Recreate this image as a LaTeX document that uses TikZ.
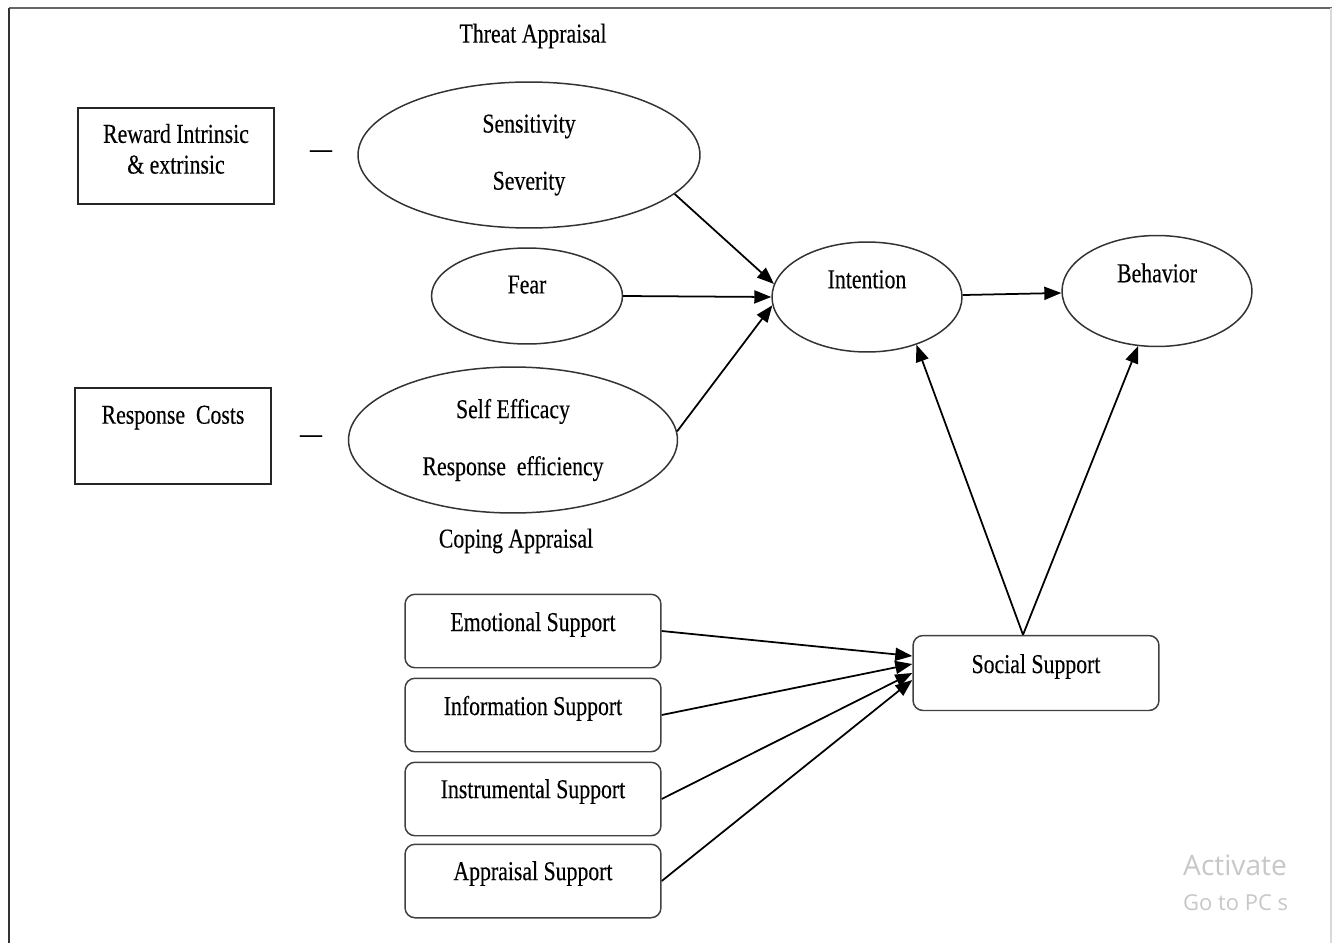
\documentclass[tikz,border=0pt]{standalone}
\usepackage{fontspec}
\setmainfont{Liberation Serif}[FakeStretch=0.8, FakeBold=0.3]
\newfontfamily\wmfont{Open Sans}
\usetikzlibrary{shapes.geometric,arrows.meta,calc}

\begin{document}
\begin{tikzpicture}[x=0.02cm,y=-0.02cm,
    font=\fontsize{15.5}{17.5}\selectfont,
    oval/.style={ellipse, draw=black!80, line width=0.85pt, inner sep=0pt},
    sqbox/.style={rectangle, draw=black!85, line width=0.85pt, minimum width=3.93cm, minimum height=1.92cm},
    rbox/.style={rectangle, rounded corners=0.2cm, draw=black!75, line width=0.85pt, minimum width=5.12cm, minimum height=1.47cm, text height=10pt, text depth=10pt},
    arr/.style={-{Triangle[length=0.34cm,width=0.26cm]}, line width=1pt},
    wm/.style={text=black!22, anchor=west}]

                    \useasboundingbox (0,0) rectangle (1332,943);
                    % frame
                    \draw[black!60, line width=1.5pt] (9,8) -- (1332,8);
                    \draw[black!80, line width=1pt] (9,8) -- (9,943);
                    \draw[black!15, line width=1pt] (1331,8) -- (1331,943);

                    % threat / coping appraisal
                    \node (threat) at (533,36) {Threat Appraisal};
                    \node[sqbox, align=center, text height=26pt, text depth=6pt] (reward) at (176,156) {Reward Intrinsic\\\& extrinsic};
                    \node (dasha) at (321,154) {—};
                    \node[oval, minimum width=6.84cm, minimum height=2.92cm, align=center] (threatov) at (529,155) {Sensitivity\\[15pt]Severity};
                    \node[oval, minimum width=3.82cm, minimum height=1.92cm, text height=10pt, text depth=13pt] (fear) at (527,296) {Fear};
                    \node[sqbox, text height=10pt, text depth=24pt] (cost) at (173,436) {Response~~Costs};
                    \node (dashb) at (311,439) {—};
                    \node[oval, minimum width=6.58cm, minimum height=2.92cm, align=center] (copeov) at (513,440) {Self Efficacy\\[15pt]Response~~efficiency};
                    \node (coping) at (516,541) {Coping Appraisal};

                    % intention and behavior
                    \node[oval, minimum width=3.8cm, minimum height=2.2cm, text height=10pt, text depth=20pt] (intent) at (867,297) {Intention};
                    \node[oval, minimum width=3.8cm, minimum height=2.22cm, text height=10pt, text depth=20pt] (behav) at (1157,291) {Behavior};

                    % support
                    \node[rbox, minimum width=4.92cm, minimum height=1.5cm] (social) at (1036,673) {Social Support};
                    \node[rbox] (emo) at (533,631) {Emotional Support};
                    \node[rbox] (info) at (533,715) {Information Support};
                    \node[rbox, text depth=11pt] (instr) at (533,799) {Instrumental Support};
                    \node[rbox, text depth=11pt] (apprs) at (533,881) {Appraisal Support};

                    \draw[arr] (threatov.-15) -- (intent.172);
                    \draw[arr] (fear.east) -- (intent.west);
                    \draw[arr] (copeov.3) -- (intent.185);
                    \draw[arr] (intent) -- (behav);
                    \draw[arr] ($(social.north)+(-13,0)$) -- (intent.-44);
                    \draw[arr] ($(social.north)+(-13,0)$) -- (behav.251);
                    \draw[arr] (emo.east) -- ($(social.west)+(0,-17)$);
                    \draw[arr] (info.east) -- ($(social.west)+(0,-9)$);
                    \draw[arr] (instr.east) -- (social.west);
                    \draw[arr] (apprs.east) -- ($(social.west)+(0,7)$);

                    % watermark
                    \node[wm, font=\wmfont\fontsize{16}{18}\selectfont] (wma) at (1177,865) {Activate};
                    \node[wm, font=\wmfont\fontsize{12.5}{14}\selectfont] (wmb) at (1177,903) {Go to PC s};
\end{tikzpicture}
\end{document}
